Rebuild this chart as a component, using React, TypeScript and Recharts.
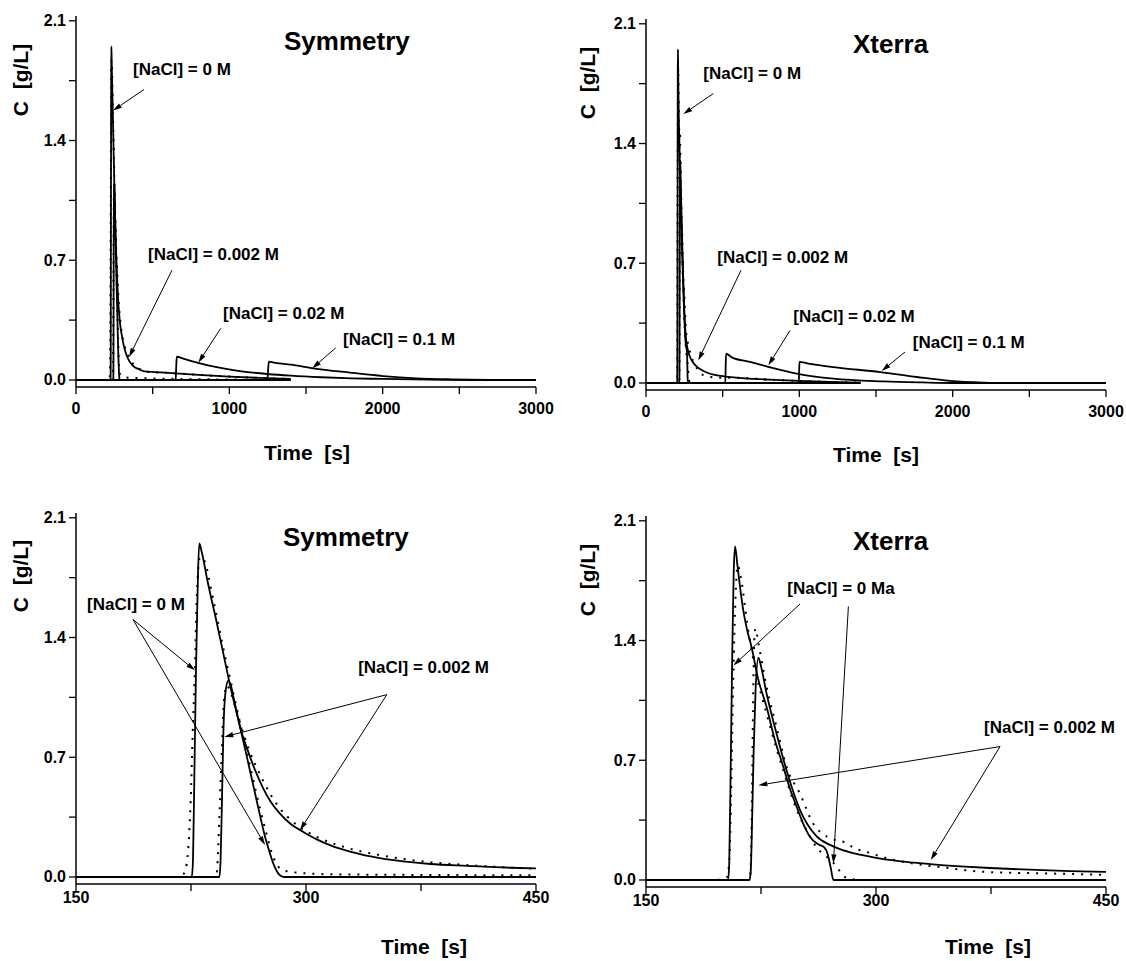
import { LineChart, Line, XAxis, YAxis, ReferenceLine, ReferenceDot } from "recharts"

const FONT = '"Liberation Sans", Arial, Helvetica, sans-serif'

// ---- Symmetry, zoomed run (150-450 s) ----
// model (solid)
const symT0 = [150, 225.5, 226.3, 227.2, 228.3, 229.5, 230.4, 232, 236, 241, 246, 251, 257, 262, 266, 270, 273.3, 276.5, 279.5, 283, 286, 450]
const symC0 = [0, 0, 0.1, 0.6, 1.23, 1.75, 1.95, 1.9, 1.72, 1.52, 1.31, 1.1, 0.877, 0.68, 0.52, 0.36, 0.235, 0.138, 0.06, 0.01, 0, 0]
const symT0002 = [150, 243.5, 244.3, 245.2, 246.1, 247.5, 249.4, 251, 253, 257, 262, 267, 272, 277, 283, 290, 298, 307, 316, 330, 348, 365, 381, 405, 433, 450]
const symC0002 = [0, 0, 0.1, 0.45, 0.84, 1.08, 1.15, 1.12, 1.04, 0.877, 0.74, 0.62, 0.52, 0.44, 0.37, 0.31, 0.265, 0.22, 0.185, 0.145, 0.11, 0.09, 0.076, 0.065, 0.054, 0.05]
// experiment (dotted)
const symExpT0 = [150, 216, 219, 221, 223.3, 224.8, 226.1, 227.6, 228.7, 230.9, 233, 240, 246, 252, 258, 264, 270, 274, 277, 280, 283, 287, 295, 320, 450]
const symExpC0 = [0, 0, 0.01, 0.03, 0.18, 0.45, 0.84, 1.23, 1.62, 1.87, 1.86, 1.6, 1.34, 1.1, 0.86, 0.63, 0.4, 0.26, 0.16, 0.09, 0.05, 0.035, 0.025, 0.015, 0.01]
const symExpT0002 = [150, 240, 241.7, 243.5, 245, 246.5, 248.3, 250, 253, 257, 263, 270, 277, 283, 290, 297, 307, 327, 350, 377, 405, 433, 450]
const symExpC0002 = [0, 0, 0.02, 0.35, 0.72, 1.03, 1.12, 1.1, 1.02, 0.9, 0.74, 0.6, 0.48, 0.4, 0.335, 0.285, 0.235, 0.17, 0.125, 0.09, 0.07, 0.055, 0.048]

// ---- Xterra, zoomed run (150-450 s) ----
const xtT0 = [150, 203.5, 204.3, 205.3, 206.3, 207.2, 208.1, 209.5, 211.5, 213.5, 216, 218.9, 223, 228.7, 234, 239.6, 244, 248.3, 253, 257, 262, 266.3, 268.5, 270.5, 272.2, 450]
const xtC0 = [0, 0, 0.1, 0.7, 1.35, 1.8, 1.95, 1.85, 1.7, 1.573, 1.46, 1.359, 1.18, 1.01, 0.82, 0.66, 0.53, 0.427, 0.32, 0.252, 0.21, 0.19, 0.15, 0.07, 0, 0]
const xtT0002 = [150, 217.5, 218.3, 219.2, 220.2, 221.5, 223.3, 225, 228.7, 235.2, 241.7, 250.4, 261.3, 270, 276.5, 286, 298.3, 315, 335.3, 355, 374.4, 400, 426.6, 450]
const xtC0002 = [0, 0, 0.05, 0.35, 0.75, 1.12, 1.3, 1.25, 1.087, 0.854, 0.64, 0.41, 0.255, 0.205, 0.18, 0.155, 0.132, 0.11, 0.093, 0.08, 0.07, 0.06, 0.052, 0.047]
const xtExpT0 = [150, 195, 200, 203, 204.5, 205.5, 206.5, 208, 209.8, 212, 216, 222, 229, 235, 241, 248.3, 254.8, 261.3, 267.9, 274.4, 278, 282, 290, 450]
const xtExpC0 = [0, 0, 0.005, 0.02, 0.15, 0.5, 1.0, 1.55, 1.84, 1.76, 1.5, 1.2, 0.96, 0.77, 0.6, 0.41, 0.29, 0.19, 0.136, 0.078, 0.03, 0.01, 0, 0]
const xtExpT0002 = [150, 216, 218, 219, 219.8, 220.6, 221.5, 223, 228.7, 235.2, 241.7, 250.4, 259, 267.9, 281, 286.3, 292.8, 305.8, 325, 344, 370, 413.5, 450]
const xtExpC0002 = [0, 0, 0.03, 0.4, 1.0, 1.4, 1.47, 1.4, 1.126, 0.893, 0.66, 0.505, 0.33, 0.254, 0.214, 0.184, 0.167, 0.13, 0.095, 0.073, 0.048, 0.038, 0.03]

// ---- long runs (0-3000 s): tails after 450 s and the salt runs ----
const tailT0 = [1400]
const tailC0 = [0]
const symTailT0002 = [600, 800, 1000, 1200, 1400]
const symTailC0002 = [0.042, 0.03, 0.02, 0.012, 0.006]
const xtTailT0002 = [600, 800, 1000, 1200, 1400]
const xtTailC0002 = [0.03, 0.02, 0.012, 0.006, 0.002]

const symT02 = [0, 650, 653, 657, 700, 809, 918, 1027, 1135, 1248, 1400, 1600, 1800, 2000, 2200, 2400, 2600, 3000]
const symC02 = [0, 0, 0.06, 0.136, 0.125, 0.097, 0.075, 0.058, 0.045, 0.035, 0.025, 0.016, 0.01, 0.006, 0.003, 0.001, 0, 0]
const symT1 = [0, 1248, 1252, 1258, 1300, 1400, 1548, 1787, 2003, 2222, 2450, 2700, 2900, 3000]
const symC1 = [0, 0, 0.05, 0.107, 0.1, 0.09, 0.068, 0.043, 0.023, 0.01, 0.004, 0.001, 0, 0]
const xtT02 = [0, 517, 519, 522, 560, 678, 787, 983, 1222, 1548, 1800, 2000, 3000]
const xtC02 = [0, 0, 0.07, 0.171, 0.15, 0.123, 0.097, 0.055, 0.025, 0.009, 0.003, 0, 0]
const xtT1 = [0, 996, 998, 1001, 1050, 1222, 1527, 1766, 1983, 2200, 2300, 3000]
const xtC1 = [0, 0, 0.05, 0.123, 0.115, 0.093, 0.064, 0.035, 0.012, 0.002, 0, 0]

// ---- axes ----
const longTicks = [0, 500, 1000, 1500, 2000, 2500, 3000]
const longLabels = [0, 1000, 2000, 3000]
const shortTicks = [150, 225, 300, 375, 450]
const shortLabels = [150, 300, 450]
const yTicks = [0, 0.35, 0.7, 1.05, 1.4, 1.75, 2.1]
const yLabels = [0, 0.7, 1.4, 2.1]

// ---- annotations: [fromT, fromC, toT, toC] and [t, c, text] ----
const symLongArrows = [[443, 1.698, 241, 1.575], [626, 0.642, 346, 0.134], [944, 0.302, 798, 0.101], [1694, 0.188, 1541, 0.068]]
const symLongNotes: [number, number, string][] = [[372, 1.815, "[NaCl] = 0 M"], [470, 0.735, "[NaCl] = 0.002 M"], [959, 0.391, "[NaCl] = 0.02 M"], [1742, 0.239, "[NaCl] = 0.1 M"]]
const xtLongArrows = [[439, 1.692, 243, 1.572], [620, 0.66, 341, 0.132], [939, 0.307, 798, 0.103], [1689, 0.181, 1537, 0.07]]
const xtLongNotes: [number, number, string][] = [[374, 1.809, "[NaCl] = 0 M"], [465, 0.732, "[NaCl] = 0.002 M"], [961, 0.389, "[NaCl] = 0.02 M"], [1740, 0.239, "[NaCl] = 0.1 M"]]
const symShortArrows = [[187.2, 1.505, 227.6, 1.208], [187.2, 1.505, 273.3, 0.187], [352.7, 1.066, 246.7, 0.819], [352.7, 1.066, 296.1, 0.274]]
const symShortNotes: [number, number, string][] = [[157.2, 1.593, "[NaCl] = 0 M"], [334, 1.225, "[NaCl] = 0.002 M"]]
const xtShortArrows = [[250.5, 1.614, 207, 1.254], [282, 1.599, 272.2, 0.097], [380.9, 0.78, 223.3, 0.554], [380.9, 0.78, 335.7, 0.117]]
const xtShortNotes: [number, number, string][] = [[242.2, 1.707, "[NaCl] = 0 Ma"], [370.5, 0.894, "[NaCl] = 0.002 M"]]

type Pt = { t: number; c: number }
const series = (ts: number[], cs: number[]): Pt[] => ts.map((t, i) => ({ t, c: cs[i] }))
// same run drawn from 0 s with a longer tail
const stretch = (ts: number[], cs: number[], tailT: number[], tailC: number[]) =>
  series([0, ...ts.slice(1), ...tailT], [...cs, ...tailC])

function Arrow(props: any) {
  const { x1, y1, x2, y2 } = props
  const a = Math.atan2(y2 - y1, x2 - x1)
  const len = 9
  const half = 2.6
  const bx = x2 - len * Math.cos(a)
  const by = y2 - len * Math.sin(a)
  const px = -Math.sin(a) * half
  const py = Math.cos(a) * half
  return (
    <g>
      <line x1={x1} y1={y1} x2={bx} y2={by} stroke="#000" strokeWidth={1} />
      <polygon points={`${x2},${y2} ${bx + px},${by + py} ${bx - px},${by - py}`} fill="#000" />
    </g>
  )
}

const xTick = (labels: number[], gap: number) => (p: any) => {
  const v = p.payload.value
  return (
    <g>
      <line x1={p.x} y1={p.y} x2={p.x} y2={p.y + 7} stroke="#000" strokeWidth={1.3} />
      {labels.includes(v) && (
        <text x={p.x} y={p.y + gap} textAnchor="middle" dominantBaseline="central" fontSize={16} fontWeight="bold" fontFamily={FONT} fill="#000">
          {v}
        </text>
      )}
    </g>
  )
}

const yTick = (p: any) => {
  const v = p.payload.value
  return (
    <g>
      <line x1={p.x - 7} y1={p.y} x2={p.x} y2={p.y} stroke="#000" strokeWidth={1.3} />
      {yLabels.includes(v) && (
        <text x={p.x - 10} y={p.y} textAnchor="end" dominantBaseline="central" fontSize={16} fontWeight="bold" fontFamily={FONT} fill="#000">
          {v.toFixed(1)}
        </text>
      )}
    </g>
  )
}

interface PanelProps {
  left: number
  top: number
  xDomain: [number, number]
  xTicks: number[]
  xLabels: number[]
  labelGap: number
  solid: Pt[][]
  dotted: Pt[][]
  arrows: number[][]
  notes: [number, number, string][]
}

function Panel({ left, top, xDomain, xTicks, xLabels, labelGap, solid, dotted, arrows, notes }: PanelProps) {
  return (
    <div style={{ position: "absolute", left, top }}>
      <LineChart width={560} height={470} margin={{ top: 16, right: 24, bottom: 53, left: 16 }}>
        <XAxis
          dataKey="t"
          type="number"
          domain={xDomain}
          ticks={xTicks}
          interval={0}
          allowDataOverflow
          height={30}
          tickSize={0}
          tickMargin={0}
          axisLine={{ stroke: "#000", strokeWidth: 1.5 }}
          tickLine={false}
          tick={xTick(xLabels, labelGap)}
        />
        <YAxis
          type="number"
          domain={[-0.041, 2.128]}
          ticks={yTicks}
          interval={0}
          allowDataOverflow
          width={60}
          tickSize={0}
          tickMargin={0}
          axisLine={{ stroke: "#000", strokeWidth: 1.5 }}
          tickLine={false}
          tick={yTick}
        />
        {dotted.map((d, i) => (
          <Line
            key={"e" + i}
            data={d}
            dataKey="c"
            type="monotone"
            stroke="#000"
            strokeWidth={2}
            strokeDasharray="2 7"
            dot={false}
            activeDot={false}
            isAnimationActive={false}
          />
        ))}
        {solid.map((d, i) => (
          <Line
            key={"s" + i}
            data={d}
            dataKey="c"
            type="monotone"
            stroke="#000"
            strokeWidth={1.8}
            dot={false}
            activeDot={false}
            isAnimationActive={false}
          />
        ))}
        {arrows.map((a, i) => (
          <ReferenceLine
            key={"a" + i}
            segment={[{ x: a[0], y: a[1] }, { x: a[2], y: a[3] }]}
            shape={Arrow}
            ifOverflow="visible"
          />
        ))}
        {notes.map((n, i) => (
          <ReferenceDot
            key={"n" + i}
            x={n[0]}
            y={n[1]}
            r={0}
            ifOverflow="visible"
            shape={(p: any) => (
              <text x={p.cx} y={p.cy} dominantBaseline="central" fontSize={17} fontWeight="bold" fontFamily={FONT} fill="#000">
                {n[2]}
              </text>
            )}
          />
        ))}
      </LineChart>
    </div>
  )
}

const titles: [number, number, string][] = [[284, 50, "Symmetry"], [853, 53, "Xterra"], [283, 546, "Symmetry"], [853, 550, "Xterra"]]
const yTitles: [number, number][] = [[28, 80], [595, 83], [28, 576], [595, 580]]
const xTitles: [number, number][] = [[307, 460], [876, 462], [424, 954], [988, 954]]

export default function App() {
  return (
    <div style={{ position: "absolute", left: 0, top: 0, width: 1126, height: 961, background: "#fff", overflow: "hidden" }}>
      <Panel
        left={0}
        top={0}
        xDomain={[0, 3000]}
        xTicks={longTicks}
        xLabels={longLabels}
        labelGap={21}
        dotted={[stretch(symExpT0, symExpC0, tailT0, tailC0), stretch(symExpT0002, symExpC0002, symTailT0002, symTailC0002)]}
        solid={[
          stretch(symT0, symC0, tailT0, tailC0),
          stretch(symT0002, symC0002, symTailT0002, symTailC0002),
          series(symT02, symC02),
          series(symT1, symC1),
        ]}
        arrows={symLongArrows}
        notes={symLongNotes}
      />
      <Panel
        left={570}
        top={3}
        xDomain={[0, 3000]}
        xTicks={longTicks}
        xLabels={longLabels}
        labelGap={21}
        dotted={[stretch(xtExpT0, xtExpC0, tailT0, tailC0), stretch(xtExpT0002, xtExpC0002, xtTailT0002, xtTailC0002)]}
        solid={[
          stretch(xtT0, xtC0, tailT0, tailC0),
          stretch(xtT0002, xtC0002, xtTailT0002, xtTailC0002),
          series(xtT02, xtC02),
          series(xtT1, xtC1),
        ]}
        arrows={xtLongArrows}
        notes={xtLongNotes}
      />
      <Panel
        left={0}
        top={497}
        xDomain={[150, 450]}
        xTicks={shortTicks}
        xLabels={shortLabels}
        labelGap={13}
        dotted={[series(symExpT0, symExpC0), series(symExpT0002, symExpC0002)]}
        solid={[series(symT0, symC0), series(symT0002, symC0002)]}
        arrows={symShortArrows}
        notes={symShortNotes}
      />
      <Panel
        left={570}
        top={500}
        xDomain={[150, 450]}
        xTicks={shortTicks}
        xLabels={shortLabels}
        labelGap={13}
        dotted={[series(xtExpT0, xtExpC0), series(xtExpT0002, xtExpC0002)]}
        solid={[series(xtT0, xtC0), series(xtT0002, xtC0002)]}
        arrows={xtShortArrows}
        notes={xtShortNotes}
      />
      <svg width={1126} height={961} style={{ position: "absolute", left: 0, top: 0, pointerEvents: "none" }}>
        {titles.map(([x, y, s], i) => (
          <text key={"t" + i} x={x} y={y} fontSize={26} fontWeight="bold" fontFamily={FONT} fill="#000">
            {s}
          </text>
        ))}
        {yTitles.map(([x, y], i) => (
          <text
            key={"y" + i}
            x={x}
            y={y}
            transform={`rotate(-90 ${x} ${y})`}
            textAnchor="middle"
            fontSize={21}
            fontWeight="bold"
            fontFamily={FONT}
            fill="#000"
            style={{ whiteSpace: "pre" }}
          >
            {"C  [g/L]"}
          </text>
        ))}
        {xTitles.map(([x, y], i) => (
          <text key={"x" + i} x={x} y={y} textAnchor="middle" fontSize={21} fontWeight="bold" fontFamily={FONT} fill="#000" style={{ whiteSpace: "pre" }}>
            {"Time  [s]"}
          </text>
        ))}
      </svg>
    </div>
  )
}
